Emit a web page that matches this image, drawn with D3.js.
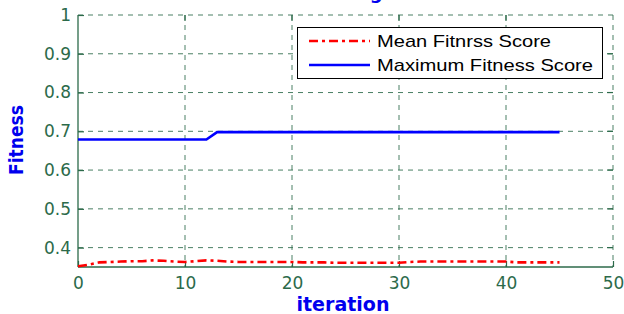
<!DOCTYPE html>
<html><head><meta charset="utf-8">
<script src="https://cdn.jsdelivr.net/npm/d3@7"></script>
<style>body{margin:0;background:#fff}svg{display:block}</style>
</head><body>
<svg id="c" width="624" height="314"></svg>
<script>
const iterations = d3.range(0, 46);
const meanFitness = [0.352,0.356,0.362,0.363,0.364,0.365,0.365,0.367,0.366,0.364,
  0.363,0.365,0.367,0.366,0.364,0.363,0.363,0.363,0.363,0.363,
  0.363,0.362,0.362,0.362,0.361,0.361,0.361,0.361,0.361,0.361,
  0.361,0.363,0.364,0.364,0.364,0.364,0.364,0.364,0.364,0.364,
  0.364,0.362,0.362,0.362,0.362,0.362];
const maxFitness = [0.679,0.679,0.679,0.679,0.679,0.679,0.679,0.679,0.679,0.679,
  0.679,0.679,0.679,0.698,0.698,0.698,0.698,0.698,0.698,0.698,
  0.698,0.698,0.698,0.698,0.698,0.698,0.698,0.698,0.698,0.698,
  0.698,0.698,0.698,0.698,0.698,0.698,0.698,0.698,0.698,0.698,
  0.698,0.698,0.698,0.698,0.698,0.698];
const xTicks = [0,10,20,30,40,50];
const yTicks = [0.4,0.5,0.6,0.7,0.8,0.9,1];
const seriesNames = ["Mean Fitnrss Score","Maximum Fitness Score"];
const titleText = "Maximum and Average Fitness Score";

const svg = d3.select("#c");
const L = 78, R = 613, T = 15, B = 267;
const x = d3.scaleLinear().domain([0,50]).range([L,R]);
const y = d3.scaleLinear().domain([0.35,1]).range([B,T]);
const axisCol = "#2c6a4a";
const font = "'DejaVu Sans', sans-serif";

// grid
const g = svg.append("g");
g.selectAll(".gx").data(xTicks.slice(1)).enter().append("line")
  .attr("x1", d=>x(d)).attr("x2", d=>x(d)).attr("y1", T).attr("y2", B)
  .attr("stroke", axisCol).attr("stroke-width", 1).attr("stroke-dasharray", "5,5").attr("opacity",0.85);
g.selectAll(".gy").data(yTicks).enter().append("line")
  .attr("x1", L).attr("x2", R).attr("y1", d=>y(d)).attr("y2", d=>y(d))
  .attr("stroke", axisCol).attr("stroke-width", 1).attr("stroke-dasharray", "5,5").attr("opacity",0.85);

// title (clipped at top, as in the original)
svg.append("text").attr("x", (L+R)/2 + 5).attr("y", -1).attr("text-anchor","middle")
  .attr("font-family", font).attr("font-weight","bold").attr("font-size", 18).attr("fill","#0000ee")
  .text(titleText);

// axes
const xAxis = d3.axisBottom(x).tickValues(xTicks).tickSize(-6).tickPadding(10).tickFormat(d3.format("d"));
const yAxis = d3.axisLeft(y).tickValues(yTicks).tickSize(-6).tickPadding(7).tickFormat(d=>d===1?"1":d3.format(".1f")(d));
const gx = svg.append("g").attr("transform",`translate(0,${B})`).call(xAxis);
const gy = svg.append("g").attr("transform",`translate(${L},0)`).call(yAxis);
[gx,gy].forEach(a=>{
  a.select(".domain").attr("stroke", axisCol).attr("stroke-width",1.3);
  a.selectAll(".tick line").attr("stroke", axisCol).attr("stroke-width",1.2);
  a.selectAll(".tick text").attr("fill", axisCol).attr("font-family", font).attr("font-size", 17);
});
gx.select(".domain").attr("d", `M${L},0H${R}`);
gy.select(".domain").attr("d", `M0,${B}V${T}`);
// top ticks
svg.selectAll(".tt").data(xTicks.slice(1,5)).enter().append("line")
  .attr("x1", d=>x(d)).attr("x2", d=>x(d)).attr("y1", T).attr("y2", T+6)
  .attr("stroke", axisCol).attr("stroke-width",1.2);
svg.selectAll(".rt").data(yTicks.slice(0,6)).enter().append("line")
  .attr("x1", R-6).attr("x2", R).attr("y1", d=>y(d)).attr("y2", d=>y(d))
  .attr("stroke", axisCol).attr("stroke-width",1.2);

// axis labels
svg.append("text").attr("x", 343).attr("y", 311).attr("text-anchor","middle")
  .attr("font-family", font).attr("font-weight","bold").attr("font-size", 19).attr("fill","#0000ee")
  .attr("textLength", 93).attr("lengthAdjust","spacingAndGlyphs").text("iteration");
svg.append("text").attr("transform", `translate(23,140) rotate(-90)`).attr("text-anchor","middle")
  .attr("font-family", font).attr("font-weight","bold").attr("font-size", 19).attr("fill","#0000ee")
  .attr("textLength", 70).attr("lengthAdjust","spacingAndGlyphs").text("Fitness");

// lines
const line = d3.line().x((d,i)=>x(iterations[i])).y(d=>y(d));
svg.append("path").datum(maxFitness).attr("d", line).attr("fill","none")
  .attr("stroke","#0000ff").attr("stroke-width",2.6);
svg.append("path").datum(meanFitness).attr("d", line).attr("fill","none")
  .attr("stroke","#ff0000").attr("stroke-width",2.6).attr("stroke-dasharray","9,4,3,4");

// legend
const lg = svg.append("g");
lg.append("rect").attr("x",297.5).attr("y",27.5).attr("width",305).attr("height",51)
  .attr("fill","#fff").attr("stroke","#000").attr("stroke-width",1);
const styles = [{c:"#ff0000",d:"9,4,3,4",w:174},{c:"#0000ff",d:null,w:216}];
seriesNames.forEach((n,i)=>{
  const yy = 41 + i*24;
  lg.append("line").attr("x1",309).attr("x2",370).attr("y1",yy).attr("y2",yy)
    .attr("stroke",styles[i].c).attr("stroke-width",2.6).attr("stroke-dasharray",styles[i].d);
  lg.append("text").attr("x",377).attr("y",yy+6).attr("font-family","'Liberation Sans', Arial, sans-serif").attr("font-size",17)
    .attr("fill","#000").attr("textLength",styles[i].w).attr("lengthAdjust","spacingAndGlyphs").text(n);
});
</script>
</body></html>
